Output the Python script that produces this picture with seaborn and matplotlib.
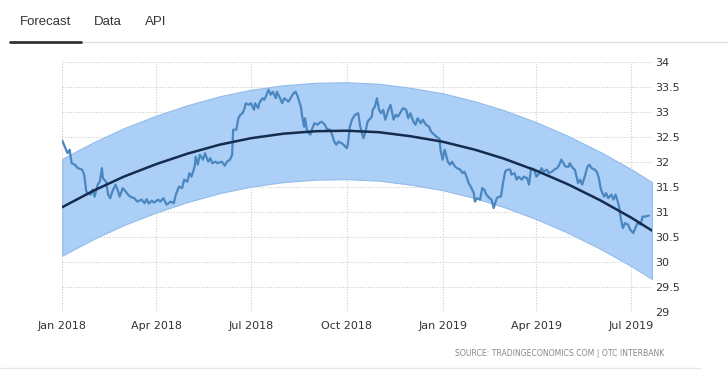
import numpy as np
import pandas as pd
import matplotlib
matplotlib.use("Agg")
import matplotlib.pyplot as plt
import matplotlib.dates as mdates
from matplotlib.lines import Line2D
import seaborn as sns

# ---------------- data ----------------
start_date = "2018-01-01"
# days since start_date and observed values
obs_days = [0, 3, 5, 7, 9, 12, 15, 19, 21, 23, 27, 29, 31, 34, 36, 38, 39, 42, 44, 46,
            48, 51, 53, 55, 58, 61, 63, 66, 69, 72, 76, 79, 81, 83, 86, 88, 92, 94, 97, 100,
            104, 107, 109, 112, 115, 117, 120, 122, 124, 127, 128, 130, 132, 135, 137, 140, 142, 144, 147, 149,
            153, 156, 158, 161, 163, 164, 167, 169, 171, 173, 175, 176, 179, 181, 184, 185, 188, 189, 192, 194,
            196, 198, 200, 202, 205, 206, 209, 211, 213, 215, 217, 219, 222, 224, 226, 229, 230, 232, 233, 235,
            238, 240, 242, 245, 247, 249, 252, 254, 257, 259, 261, 263, 265, 268, 270, 273, 274, 276, 278, 281,
            284, 286, 289, 291, 293, 297, 298, 300, 302, 304, 306, 308, 310, 313, 315, 318, 320, 322, 325, 327,
            330, 332, 334, 337, 339, 341, 344, 346, 349, 352, 354, 357, 359, 362, 363, 365, 367, 370, 372, 374,
            377, 379, 382, 384, 386, 388, 390, 392, 395, 396, 398, 401, 403, 405, 407, 410, 412, 414, 417, 419,
            421, 423, 425, 427, 430, 431, 434, 436, 438, 441, 443, 446, 448, 450, 453, 455, 458, 460, 462, 465,
            467, 470, 472, 475, 477, 479, 481, 483, 486, 487, 490, 492, 495, 497, 499, 502, 504, 506, 508, 511,
            513, 515, 517, 520, 522, 524, 527, 529, 531, 534, 536, 538, 540, 543, 545, 548, 550, 552, 555, 557,
            559, 563]
obs_values = [32.43, 32.28, 32.18, 32.25, 31.98, 31.95, 31.88, 31.85, 31.75, 31.41, 31.35, 31.45, 31.31, 31.55, 31.61, 31.88, 31.68, 31.61, 31.35, 31.28,
              31.41, 31.55, 31.45, 31.31, 31.48, 31.41, 31.35, 31.30, 31.28, 31.21, 31.25, 31.18, 31.26, 31.17, 31.23, 31.19, 31.25, 31.21, 31.28, 31.15,
              31.21, 31.18, 31.35, 31.51, 31.48, 31.65, 31.61, 31.78, 31.71, 31.91, 32.11, 31.95, 32.15, 32.05, 32.18, 32.01, 32.08, 31.98, 32.01, 31.98,
              32.01, 31.93, 32.01, 32.05, 32.15, 32.65, 32.65, 32.88, 32.95, 32.98, 33.08, 33.18, 33.15, 33.18, 33.05, 33.18, 33.08, 33.18, 33.28, 33.25,
              33.35, 33.45, 33.35, 33.41, 33.28, 33.41, 33.28, 33.18, 33.28, 33.25, 33.21, 33.28, 33.38, 33.41, 33.31, 33.11, 32.95, 32.71, 32.88, 32.61,
              32.55, 32.68, 32.78, 32.75, 32.79, 32.81, 32.75, 32.66, 32.65, 32.55, 32.41, 32.35, 32.41, 32.38, 32.35, 32.28, 32.35, 32.71, 32.85, 32.95,
              32.98, 32.71, 32.48, 32.61, 32.81, 32.91, 33.05, 33.11, 33.28, 33.05, 32.98, 33.05, 32.85, 33.05, 33.15, 32.85, 32.95, 32.91, 33.01, 33.08,
              33.05, 32.88, 32.98, 32.81, 32.75, 32.88, 32.78, 32.85, 32.75, 32.71, 32.61, 32.55, 32.51, 32.47, 32.25, 32.05, 32.25, 32.01, 31.95, 32.01,
              31.91, 31.88, 31.85, 31.78, 31.81, 31.71, 31.58, 31.51, 31.38, 31.21, 31.28, 31.25, 31.48, 31.45, 31.35, 31.28, 31.25, 31.08, 31.28, 31.31,
              31.31, 31.58, 31.81, 31.85, 31.85, 31.75, 31.78, 31.65, 31.71, 31.65, 31.71, 31.68, 31.55, 31.88, 31.85, 31.71, 31.78, 31.88, 31.81, 31.85,
              31.78, 31.81, 31.85, 31.88, 31.95, 32.05, 31.98, 31.91, 31.91, 31.98, 31.88, 31.85, 31.58, 31.65, 31.55, 31.75, 31.91, 31.95, 31.88, 31.85,
              31.81, 31.68, 31.45, 31.31, 31.38, 31.28, 31.35, 31.25, 31.35, 31.15, 30.88, 30.68, 30.78, 30.75, 30.65, 30.58, 30.68, 30.78, 30.75, 30.91,
              30.91, 30.93]

# forecast trend and band, read at month starts
trend_dates = ["2018-01-01", "2018-02-01", "2018-03-01", "2018-04-01", "2018-05-01", "2018-06-01",
               "2018-07-01", "2018-08-01", "2018-09-01", "2018-10-01", "2018-11-01", "2018-12-01",
               "2019-01-01", "2019-02-01", "2019-03-01", "2019-04-01", "2019-05-01", "2019-06-01",
               "2019-07-01", "2019-07-21"]
trend_values = [31.10, 31.44, 31.71, 31.96, 32.17, 32.35, 32.48, 32.57, 32.62, 32.63,
                32.60, 32.52, 32.41, 32.25, 32.07, 31.83, 31.56, 31.24, 30.89, 30.63]
band_upper = [32.07, 32.41, 32.68, 32.93, 33.14, 33.32, 33.45, 33.54, 33.59, 33.60,
              33.57, 33.49, 33.38, 33.22, 33.04, 32.80, 32.53, 32.21, 31.86, 31.60]
band_lower = [30.13, 30.47, 30.74, 30.99, 31.20, 31.38, 31.51, 31.60, 31.65, 31.66,
              31.63, 31.55, 31.44, 31.28, 31.10, 30.86, 30.59, 30.27, 29.92, 29.66]

x_tick_dates = ["2018-01-01", "2018-04-01", "2018-07-01", "2018-10-01", "2019-01-01", "2019-04-01", "2019-07-01"]
x_tick_labels = ["Jan 2018", "Apr 2018", "Jul 2018", "Oct 2018", "Jan 2019", "Apr 2019", "Jul 2019"]
y_ticks = [29, 29.5, 30, 30.5, 31, 31.5, 32, 32.5, 33, 33.5, 34]
y_tick_labels = ["29", "29.5", "30", "30.5", "31", "31.5", "32", "32.5", "33", "33.5", "34"]
tabs = ["Forecast", "Data", "API"]
source_text = "SOURCE: TRADINGECONOMICS.COM | OTC INTERBANK"

# ---------------- build frames ----------------
obs = pd.DataFrame({
    "date": pd.Timestamp(start_date) + pd.to_timedelta(obs_days, unit="D"),
    "value": obs_values,
})
fc = pd.DataFrame({
    "date": pd.to_datetime(trend_dates),
    "trend": trend_values,
    "upper": band_upper,
    "lower": band_lower,
})

sns.set_theme(style="white")
plt.rcParams["font.family"] = ["DejaVu Sans"]

W, H = 728, 379
fig = plt.figure(figsize=(W / 100, H / 100), dpi=100)
fig.patch.set_facecolor("white")

left, right, top, bottom = 62.3, 652, 62.3, 312
ax = fig.add_axes([left / W, 1 - bottom / H, (right - left) / W, (bottom - top) / H])
ax.set_facecolor("white")

ax.fill_between(fc["date"], fc["lower"], fc["upper"], color="#abcff6", alpha=1.0,
                linewidth=0.8, edgecolor="#93bcea", zorder=1)
sns.lineplot(data=obs, x="date", y="value", ax=ax, color="#4a86c0", linewidth=1.6, zorder=3)
sns.lineplot(data=fc, x="date", y="trend", ax=ax, color="#152c4e", linewidth=1.8, zorder=4)

ax.set_xlim(pd.Timestamp("2018-01-01"), pd.Timestamp("2019-07-21"))
ax.set_ylim(29, 34)
ax.set_xticks(pd.to_datetime(x_tick_dates))
ax.set_xticklabels(x_tick_labels)
ax.set_yticks(y_ticks)
ax.set_yticklabels(y_tick_labels)
ax.yaxis.tick_right()
ax.set_xlabel("")
ax.set_ylabel("")
for s in ax.spines.values():
    s.set_visible(False)
ax.grid(True, which="major", color="#cccccc", linestyle=(0, (1, 1.5)), linewidth=0.8, zorder=0)
ax.set_axisbelow(True)
ax.tick_params(axis="x", length=0, pad=6.5, labelsize=8, labelcolor="#333333")
ax.tick_params(axis="y", length=0, pad=2, labelsize=8, labelcolor="#333333")
for lab in ax.get_yticklabels():
    lab.set_horizontalalignment("left")

# ---------------- header tabs ----------------
tab_x = [20, 94, 145]
for t, x in zip(tabs, tab_x):
    fig.text(x / W, 1 - 22 / H, t, fontsize=9.5, color="#333333", va="center", ha="left",
             family=["Liberation Sans", "DejaVu Sans"])
fig.add_artist(Line2D([81 / W, 1.0], [1 - 42.3 / H, 1 - 42.3 / H], color="#dddddd", linewidth=1.0))
fig.add_artist(Line2D([10 / W, 81 / W], [1 - 41.8 / H, 1 - 41.8 / H], color="#333333", linewidth=2.0))

# bottom panel border
fig.add_artist(Line2D([0, 700 / W], [1 - 368 / H, 1 - 368 / H], color="#e6e6e6", linewidth=1.0))

# source
fig.text(455 / W, 1 - 354 / H, source_text, fontsize=5.6, color="#888888", va="center", ha="left")

fig.savefig("out.png", dpi=100, facecolor="white")
